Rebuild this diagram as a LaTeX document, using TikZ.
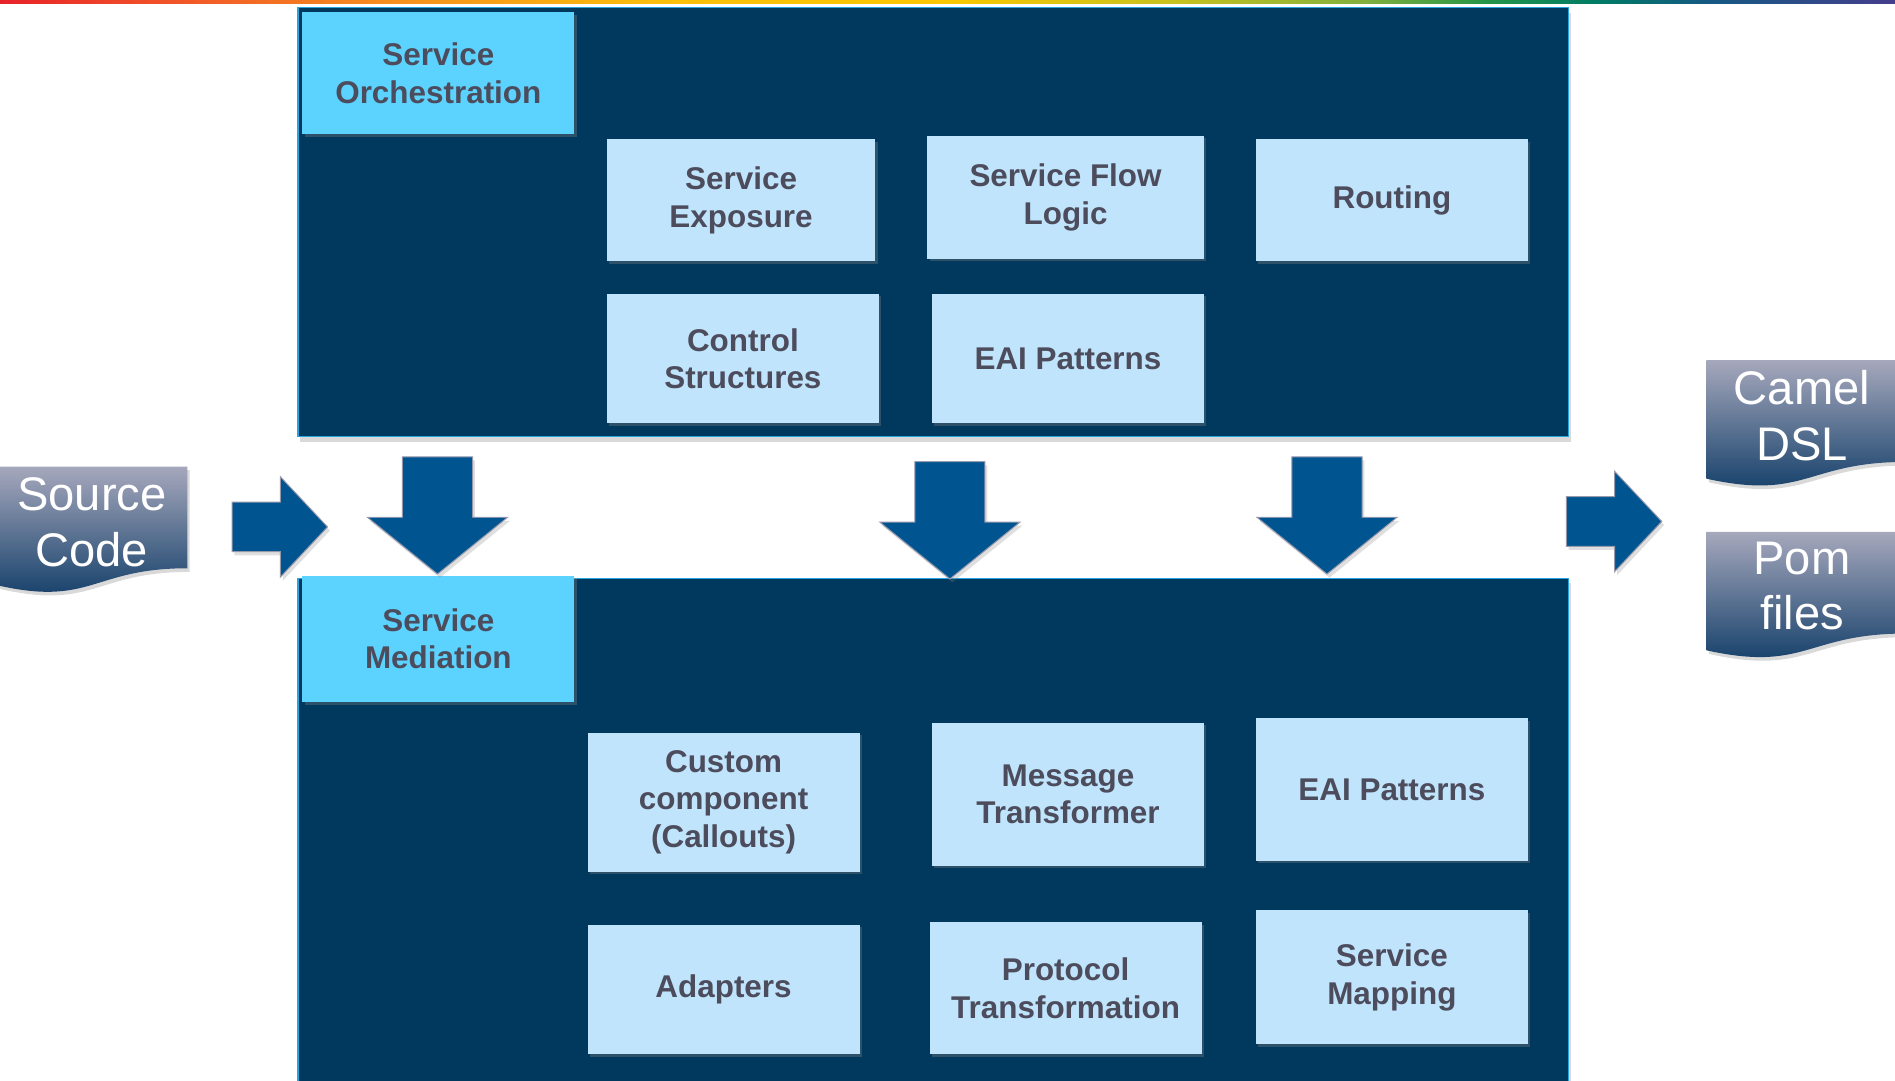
\documentclass[tikz,border=0pt]{standalone}
\usepackage{fontspec}
\setmainfont{Liberation Sans}
\usetikzlibrary{shadows}
\definecolor{panelnavy}{RGB}{0,56,94}
\definecolor{panelline}{RGB}{40,165,225}
\definecolor{boxcyan}{RGB}{92,211,255}
\definecolor{boxlight}{RGB}{192,228,252}
\definecolor{labelgray}{RGB}{76,76,92}
\definecolor{arrowblue}{RGB}{0,85,145}
\definecolor{arrowedge}{RGB}{150,152,172}
\definecolor{doctop}{RGB}{166,168,188}
\definecolor{docbot}{RGB}{10,56,100}
\pgfdeclarehorizontalshading{rainbowbar}{100bp}{rgb(0bp)=(0.91,0.13,0.16); rgb(25bp)=(0.91,0.13,0.16); rgb(29bp)=(0.94,0.31,0.16); rgb(35bp)=(0.96,0.55,0.12); rgb(42.5bp)=(0.98,0.75,0.04); rgb(50bp)=(0.98,0.78,0); rgb(56bp)=(0.78,0.76,0.12); rgb(61bp)=(0.51,0.69,0.24); rgb(64bp)=(0.16,0.59,0.27); rgb(67bp)=(0,0.49,0.39); rgb(70bp)=(0.08,0.35,0.51); rgb(75bp)=(0.27,0.24,0.55); rgb(100bp)=(0.27,0.24,0.55)}

\begin{document}
\begin{tikzpicture}[x=1pt,y=-1pt]
  \tikzstyle{panel}=[fill=panelnavy,draw=panelline,line width=1pt,anchor=north west,inner sep=0pt,
    drop shadow={opacity=0.3,shadow xshift=2pt,shadow yshift=-4pt}]
  \tikzstyle{headbox}=[fill=boxcyan,text=labelgray,align=center,anchor=north west,inner sep=0pt,
    font=\fontsize{26}{31}\selectfont\bfseries,drop shadow={opacity=0.35,shadow xshift=2pt,shadow yshift=-2pt}]
  \tikzstyle{funcbox}=[headbox,fill=boxlight]
  \tikzstyle{blockarrow}=[fill=arrowblue,draw=arrowedge,line width=0.8pt,line join=miter,
    drop shadow={opacity=0.25,shadow xshift=2pt,shadow yshift=-3pt}]
  \tikzstyle{docfill}=[top color=doctop,bottom color=docbot,
    drop shadow={opacity=0.3,shadow xshift=2pt,shadow yshift=-3pt}]
  \tikzstyle{doctext}=[text=white,align=center,inner sep=0pt,font=\fontsize{39}{46}\selectfont]

  \useasboundingbox (0,0) rectangle (1568,894);
  \shade[shading=rainbowbar] (0,0) rectangle (1568,3);

  \node [panel,minimum width=1051,minimum height=355] (orchpanel) at (246,6) {};
  \node [panel,minimum width=1051,minimum height=430] (medpanel) at (246,478) {};

  \node [headbox,minimum width=225,minimum height=101] (orch) at (250,10) {Service\\Orchestration};
  \node [funcbox,minimum width=222,minimum height=101] (expose) at (502,115) {Service\\Exposure};
  \node [funcbox,minimum width=229,minimum height=102] (flow) at (767,112) {Service Flow\\Logic};
  \node [funcbox,minimum width=225,minimum height=101] (route) at (1039,115) {Routing};
  \node [funcbox,minimum width=225,minimum height=107] (ctrl) at (502,243) {Control\\Structures};
  \node [funcbox,minimum width=225,minimum height=107] (eaitop) at (771,243) {EAI Patterns};

  \node [headbox,minimum width=225,minimum height=105] (med) at (250,476) {Service\\Mediation};
  \node [funcbox,minimum width=225,minimum height=115] (custom) at (486,606) {Custom\\component\\(Callouts)};
  \node [funcbox,minimum width=225,minimum height=118] (msgtr) at (771,598) {Message\\Transformer};
  \node [funcbox,minimum width=225,minimum height=118] (eaibot) at (1039,594) {EAI Patterns};
  \node [funcbox,minimum width=225,minimum height=107] (adapt) at (486,765) {Adapters};
  \node [funcbox,minimum width=225,minimum height=109] (proto) at (769,763) {Protocol\\Transformation};
  \node [funcbox,minimum width=225,minimum height=111] (mapping) at (1039,753) {Service\\Mapping};

  \foreach \ax/\ay in {362/378, 786/382, 1098/378}
    \draw [blockarrow] ({\ax-29},\ay) -- ({\ax+29},\ay) -- ({\ax+29},{\ay+50}) -- ({\ax+58},{\ay+50})
      -- (\ax,{\ay+97}) -- ({\ax-58},{\ay+50}) -- ({\ax-29},{\ay+50}) -- cycle;
  \foreach \ax/\ay in {192/436, 1296/431.5}
    \draw [blockarrow] (\ax,{\ay-20.5}) -- ({\ax+40},{\ay-20.5}) -- ({\ax+40},{\ay-41.5}) -- ({\ax+79},\ay)
      -- ({\ax+40},{\ay+41.5}) -- ({\ax+40},{\ay+20.5}) -- (\ax,{\ay+20.5}) -- cycle;

  \foreach \dx/\dy/\dw in {-3/386/158, 1412/298/165, 1412/440/165}
    \shade [docfill] (\dx,\dy) -- ({\dx+\dw},\dy) -- ({\dx+\dw},{\dy+84.2})
      .. controls ({\dx+0.5*\dw},{\dy+84.2}) and ({\dx+0.5*\dw},{\dy+116.3}) .. (\dx,{\dy+98.1}) -- cycle;

  \node [doctext] (srccode) at (76,432) {Source\\Code};
  \node [doctext] (cameldsl) at (1491,344) {Camel\\DSL};
  \node [doctext] (pomfiles) at (1491,485) {Pom\\files};
\end{tikzpicture}
\end{document}
